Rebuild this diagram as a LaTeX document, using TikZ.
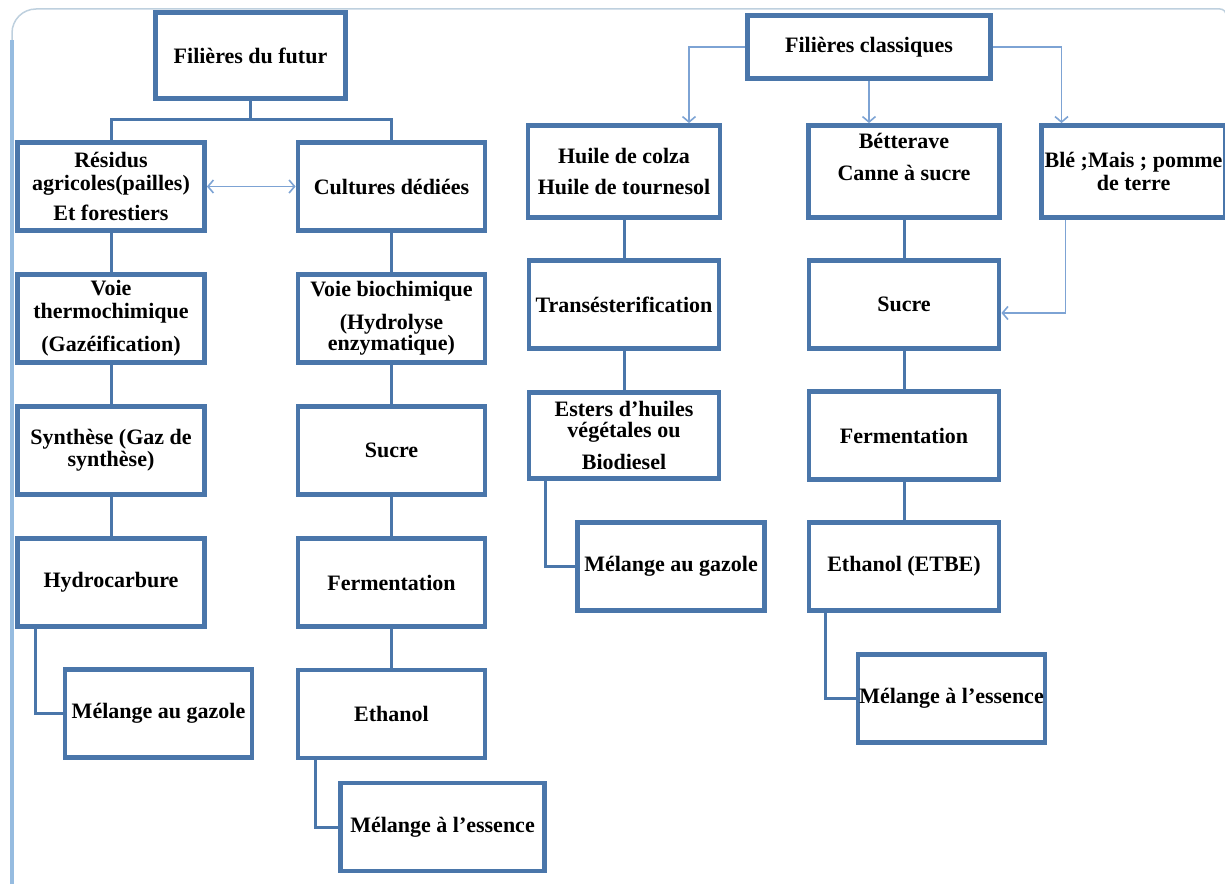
\documentclass[tikz,border=0pt]{standalone}
\usepackage{fontspec}
\setmainfont{Liberation Serif}
\usetikzlibrary{arrows.meta,shadows}

\definecolor{boxblue}{RGB}{74,118,170}
\definecolor{flowblue}{RGB}{125,163,212}
\definecolor{frameside}{RGB}{150,188,224}
\definecolor{frametop}{RGB}{190,208,222}

\begin{document}
\begin{tikzpicture}[x=1pt,y=-1pt,
  every node/.style={font=\bfseries\fontsize{22}{23}\selectfont},
  box/.style={draw=boxblue,line width=4.8pt,fill=white,align=center,
    inner sep=0pt,minimum width=187pt,minimum height=88pt,
    drop shadow={shadow xshift=1.5pt,shadow yshift=-1.5pt,opacity=0.3}},
  link/.style={boxblue,line width=3pt},
  flow/.style={flowblue,line width=1.6pt,
    -{Straight Barb[length=5.5pt,width=13pt]}}]
  \useasboundingbox (0,0) rectangle (1225,883);

  % Page frame around the two families of biofuels.
  \draw[frametop,line width=1.5pt,rounded corners=24pt]
    (12,900) -- (12,9) [rounded corners=6pt] -- (1226,9) -- (1226,60);
  \draw[frameside,line width=4pt] (12,900) -- (12,40);

  % Left tree: future pathways.
  \node[box,minimum width=190pt,minimum height=86pt] (fut) at (250.5,55.5) {Filières du futur};
  \node[box] (res) at (111,186.5) {Résidus\\agricoles(pailles)\\[7pt]Et forestiers};
  \node[box] (cult) at (391.5,186.5) {Cultures dédiées};
  \node[box] (thermo) at (111,318.5) {Voie\\thermochimique\\[10pt](Gazéification)};
  \node[box] (bio) at (391.5,318.5) {Voie biochimique\\[10pt](Hydrolyse\\[-2pt]enzymatique)};
  \node[box] (synth) at (111,450.5) {Synthèse (Gaz de\\[-1pt]synthèse)};
  \node[box] (sucreL) at (391.5,450.5) {Sucre};
  \node[box] (hydro) at (111,582.5) {Hydrocarbure};
  \node[box] (fermL) at (391.5,582.5) {Fermentation};
  \node[box] (gazL) at (158.5,713.5) {Mélange au gazole};
  \node[box] (ethL) at (391.5,714) {Ethanol};
  \node[box,minimum width=204pt] (essL) at (442.5,827) {Mélange à l’essence};

  % Right tree: classical pathways.
  \node[box,minimum width=243pt,minimum height=63pt] (cla) at (869,47) {Filières classiques};
  \node[box,minimum width=192pt,minimum height=92pt] (huile) at (624,171.5) {Huile de colza\\[8pt]Huile de tournesol};
  \node[box,minimum width=191pt,minimum height=92pt] (bett) at (904,171.5) {Bétterave\\[9pt]Canne à sucre\\[6pt]\mbox{}};
  \node[box,minimum width=184pt,minimum height=92pt] (ble) at (1133.5,171.5) {Blé ;Mais ; pomme\\de terre};
  \node[box,minimum width=190pt] (trans) at (624,304.5) {Transésterification};
  \node[box,minimum width=190pt,minimum height=86pt] (esters) at (624,435.5) {Esters d’huiles\\[-2pt]végétales ou\\[9pt]Biodiesel};
  \node[box] (gazR) at (671,566.5) {Mélange au gazole};
  \node[box,minimum width=190pt] (sucreR) at (904,304.5) {Sucre};
  \node[box,minimum width=190pt] (fermR) at (904,435.5) {Fermentation};
  \node[box,minimum width=190pt] (ethR) at (904,566.5) {Ethanol (ETBE)};
  \node[box] (essR) at (951.5,698.5) {Mélange à l’essence};

  \draw[link] (fut.south) -- ++(0,19) coordinate (split);
  \draw[link] (res.north) |- (split) -| (cult.north);
  \foreach \a/\b in {res/thermo,thermo/synth,synth/hydro,cult/bio,bio/sucreL,
    sucreL/fermL,fermL/ethL,huile/trans,trans/esters,bett/sucreR,
    sucreR/fermR,fermR/ethR}
    \draw[link] (\a) -- (\b);
  \draw[link] ([xshift=-76pt]hydro.south) |- (gazL.west);
  \draw[link] ([xshift=-76.5pt]ethL.south) |- (essL.west);
  \draw[link] ([xshift=-79pt]esters.south) |- (gazR.west);
  \draw[link] ([xshift=-79pt]ethR.south) |- (essR.west);

  \draw[flow,{Straight Barb[length=5.5pt,width=13pt]}-{Straight Barb[length=5.5pt,width=13pt]}]
    (res) -- (cult);
  \draw[flow] (cla.west) -| ([xshift=65pt]huile.north);
  \draw[flow] (cla.south) -- (cla.south |- bett.north);
  \draw[flow] (cla.east) -| ([xshift=-72pt]ble.north);
  \draw[flow] ([xshift=-68pt]ble.south) |- ([yshift=-8.5pt]sucreR.east);
\end{tikzpicture}
\end{document}
